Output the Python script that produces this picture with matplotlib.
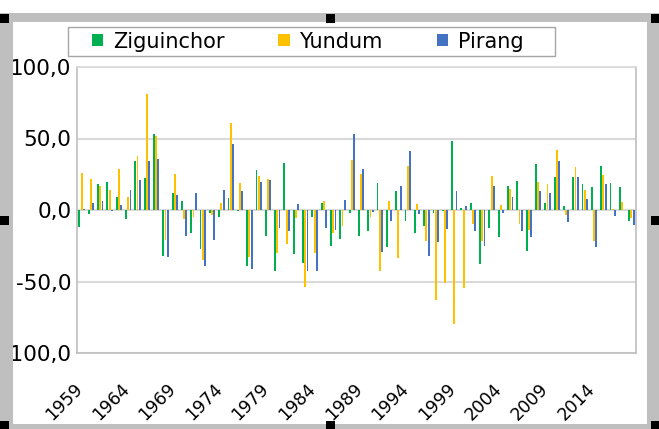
import matplotlib
matplotlib.use("Agg")
import matplotlib.pyplot as plt
import numpy as np
from matplotlib.patches import Rectangle
from matplotlib.transforms import ScaledTranslation

years = list(range(1959, 2019))
ziguinchor = [-12, -2.5, 18, 19.5, 9, -6.5, 34, 22.5, 53, -32.5,
              11.6, 6.5, -16, -27, -2, -5, 8.4, -1, -39, 28,
              -18, -42.8, 32.8, -31, -37, -5, 5, -25, -20, -2,
              -18, -15, 18.6, -25.6, 13.3, -8, -16, -11.4, -2, -1,
              48.4, 1.6, 4.7, -38, -12.6, -18.6, 16.7, 20, -29, 32,
              5, 23, 2.6, 23, 17.9, 15.8, 30.7, 19, 16.3, -8]
yundum = [26, 21.6, 17, 13.7, 29, 9, 38, 81, 52, -21,
          25, -6.3, -4.7, -35, -3.5, 4.7, 60.7, 18.6, -33, 24,
          21.6, -30, -24, -5.8, -53.5, -30, 6.3, -15.8, -11.4, 35,
          25, -5, -43, 6.5, -33.5, 30.7, 4.2, -22, -63, -51,
          -80, -54.6, -9.8, -21.4, 23.7, 3.5, 15, -9.8, -14, 19.5,
          18, 42, -3.5, 29.8, 14, -21.4, 24.4, 0.7, 5.8, -5.8]
pirang = [1, 5, 6, -1, 3.5, 14, 21, 34, 35.6, -33,
          10.5, -18.4, 11.6, -39.5, -21, 14, 46, 13.5, -41, 19.3,
          21, -12.8, -15, 4.2, -43, -43, -12.5, -14, 7.2, 52.8,
          29, -1.6, -29.3, -7.4, 17, 41, -3, -32.3, -22.6, -13.5,
          13.5, 3, -15, -25.3, 16.7, -2, 8.8, -15, -18.6, 13.5,
          11.9, 34, -8.6, 23, 8, -25.6, 17.9, -4.4, 0, -10.7]
series_names = ["Ziguinchor", "Yundum", "Pirang"]
yticks = [-100, -50, 0, 50, 100]
ytick_labels = ["-100,0", "-50,0", "0,0", "50,0", "100,0"]

GREEN, YELLOW, BLUE = "#00B050", "#FFC000", "#4472C4"
GRID = "#D9D9D9"
FRAME = "#BFBFBF"

W, H = 659, 429


def fx(px):
    return px / W


def fy(py):
    return 1 - py / H


fig = plt.figure(figsize=(W / 100, H / 100), dpi=100)
ax = fig.add_axes([fx(77), fy(353), fx(636) - fx(77), fy(67) - fy(353)])

x = np.arange(len(years))
bw = 0.2
off = 0.24
for k, (vals, col) in enumerate(zip([ziguinchor, yundum, pirang], [GREEN, YELLOW, BLUE])):
    ax.bar(x + (k - 1) * off, vals, width=bw, color=col, lw=0, antialiased=False,
           zorder=3, label=series_names[k])

ax.set_xlim(-0.5, len(years) - 0.5)
ax.set_ylim(-100, 100)
ax.set_yticks(yticks)
ax.set_yticklabels(ytick_labels)
ax.yaxis.grid(True, color=GRID, lw=1.5, zorder=0)
ax.set_axisbelow(True)
ax.tick_params(axis="y", length=0, pad=4, labelsize=15.5)

ax.set_xticks(x[::5])
ax.set_xticklabels([str(y) for y in years[::5]], rotation=45, ha="right", va="top",
                   rotation_mode="anchor")
ax.tick_params(axis="x", length=0, pad=19.5, labelsize=12.5)
shift = ScaledTranslation(-8 / 100, 0, fig.dpi_scale_trans)
for lbl in ax.get_xticklabels():
    lbl.set_transform(lbl.get_transform() + shift)

for s in ax.spines.values():
    s.set_color(FRAME)
    s.set_linewidth(1.2)
ax.spines["top"].set_color(GRID)

# legend box
fig.add_artist(Rectangle((fx(68), fy(56)), fx(555) - fx(68), fy(27) - fy(56),
                         transform=fig.transFigure, facecolor="white",
                         edgecolor="#A6A6A6", lw=1.0, zorder=4))
leg = fig.legend(loc="center", bbox_to_anchor=((fx(68) + fx(555)) / 2 - fx(4), (fy(27) + fy(56)) / 2),
                 ncol=3, frameon=False, fontsize=15, handlelength=0.55, handleheight=0.55,
                 handletextpad=0.45, columnspacing=2.6)
leg.set_zorder(5)

# screenshot selection frame with handles
for (x0, y0, x1, y1) in [(0, 13, W, 22), (0, 13, 13, H), (647, 13, W, H), (0, 424, W, H)]:
    fig.add_artist(Rectangle((fx(x0), fy(y1)), fx(x1) - fx(x0), fy(y0) - fy(y1),
                             transform=fig.transFigure, facecolor=FRAME,
                             edgecolor="none", zorder=6))
for (cx, cy) in [(4, 18), (330, 18), (655, 18), (4, 220), (655, 220),
                 (4, 425), (330, 425), (655, 425)]:
    fig.add_artist(Rectangle((fx(cx - 4.5), fy(cy + 4.5)), fx(9), 9 / H,
                             transform=fig.transFigure, facecolor="black",
                             edgecolor="none", zorder=7))

fig.savefig("out.png", dpi=100)
